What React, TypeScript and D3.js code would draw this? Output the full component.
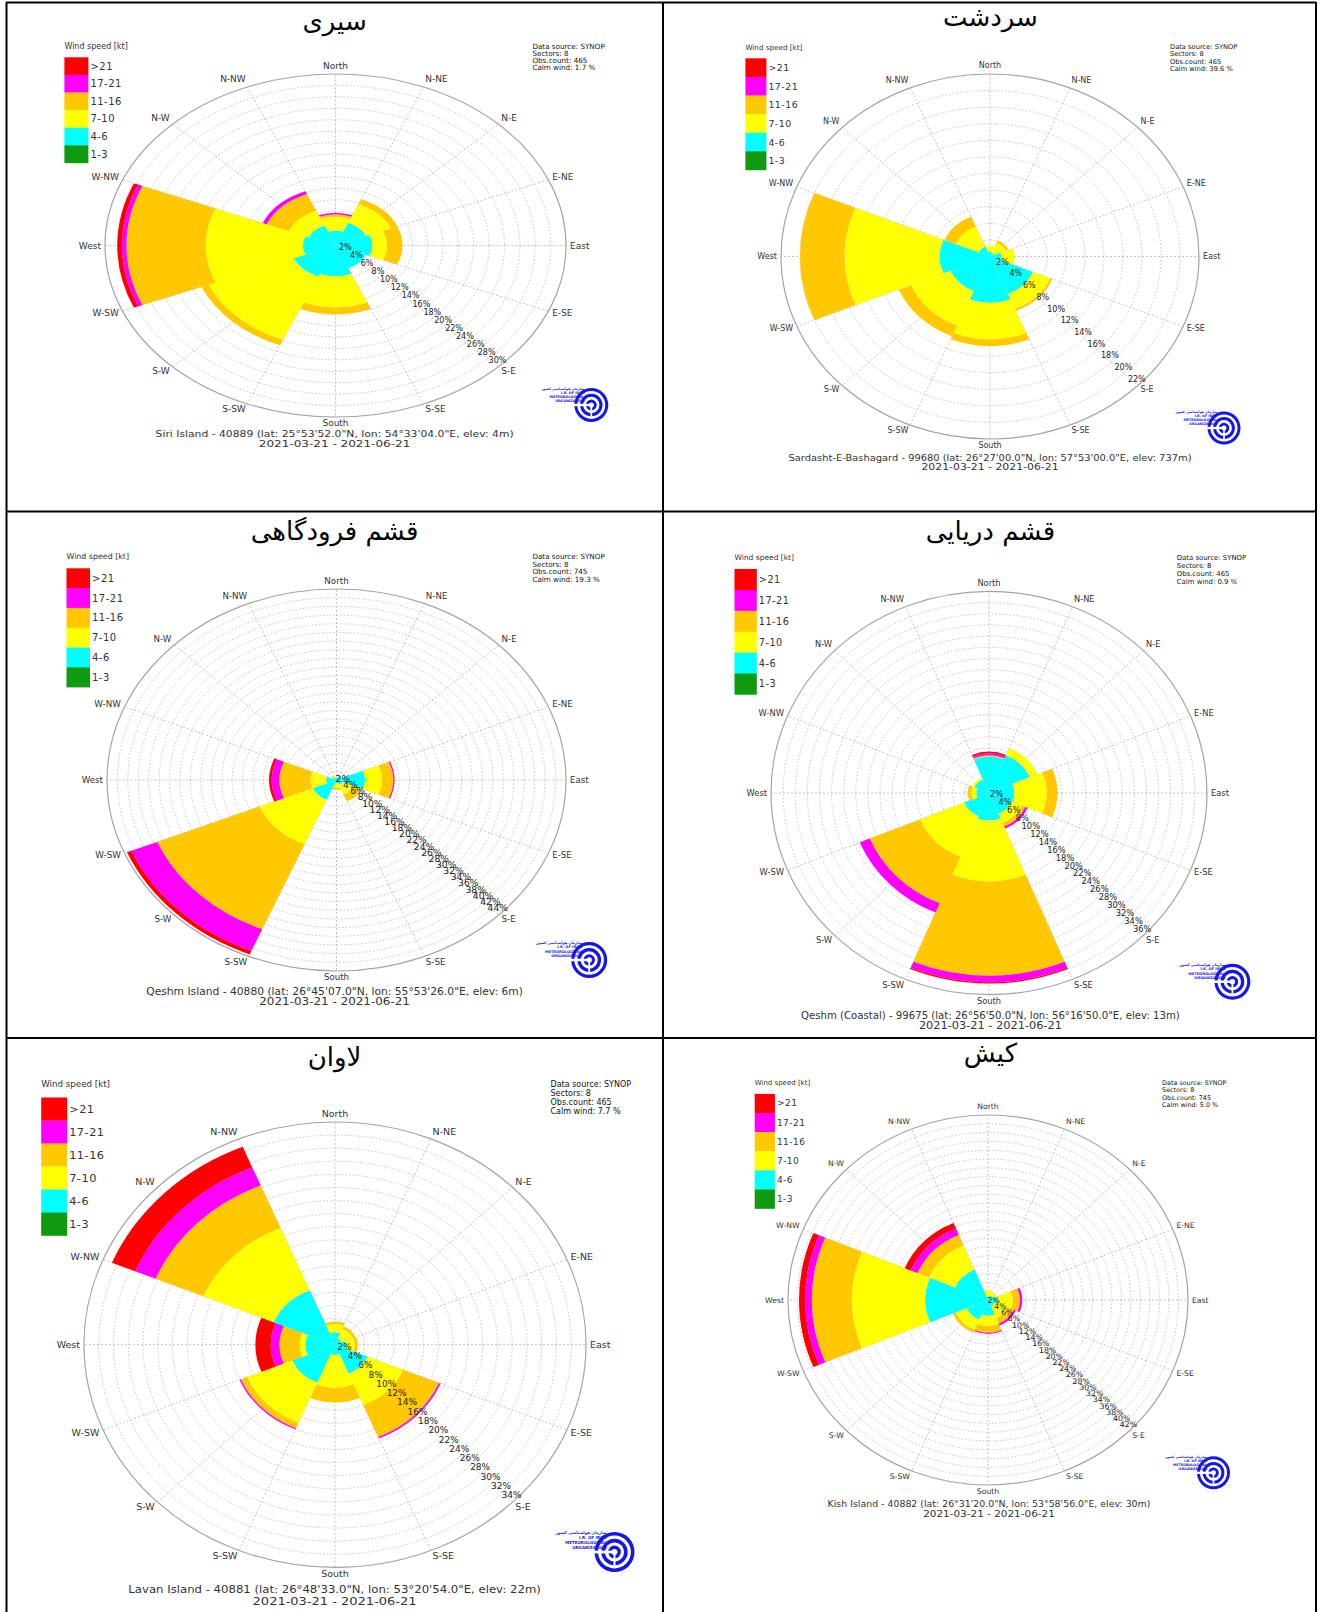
import React from 'react';
import * as d3 from 'd3';

// ---------- data ----------
const SECTORS = ['N', 'NE', 'E', 'SE', 'S', 'SW', 'W', 'NW'];
const COMPASS = ['North', 'N-NE', 'N-E', 'E-NE', 'East', 'E-SE', 'S-E', 'S-SE', 'South', 'S-SW', 'S-W', 'W-SW', 'West', 'W-NW', 'N-W', 'N-NW'];
const SPEED_CLASSES = ['1-3', '4-6', '7-10', '11-16', '17-21', '>21'];
const SPEED_COLORS = ['#109a10', '#00ffff', '#ffff00', '#ffc800', '#ff00ff', '#ff0000'];
const DATE_RANGE = '2021-03-21 - 2021-06-21';

// frequency (%) : rows = speed class (1-3 ... >21), cols = sector (N ... NW)
const siriFreq = [
  [0, 0, 0, 0, 0, 0, 0, 0],
  [2.6, 4.3, 4.8, 4.3, 5.4, 5.9, 4.25, 3.8],
  [2.4, 3.5, 1.9, 0, 5.4, 12.0, 12.65, 2.8],
  [0.45, 0.95, 2.0, 0, 1.2, 1.0, 10.3, 3.1],
  [0.25, 0, 0, 0, 0, 0, 0.6, 0.55],
  [0, 0, 0, 0, 0, 0, 0.6, 0],
];
const sardashtFreq = [
  [0, 0, 0, 0, 0, 0, 0, 0],
  [0.65, 0.5, 1.2, 4.9, 5.6, 4.5, 5.3, 1.3],
  [0.65, 1.3, 1.4, 1.95, 4.4, 4.5, 10.0, 2.6],
  [0, 0.3, 0, 0.25, 0.8, 1.4, 4.7, 1.3],
  [0, 0, 0, 0, 0, 0, 0, 0],
  [0, 0, 0, 0, 0, 0, 0, 0],
];
const qeshmAirportFreq = [
  [0, 0, 0, 0, 0, 0, 0, 0],
  [0.4, 1.0, 5.5, 1.2, 0.7, 4.9, 2.0, 0.8],
  [0, 0, 3.2, 2.4, 1.15, 11.1, 3.0, 0.4],
  [0, 0, 2.15, 1.7, 0.45, 21.2, 5.9, 0],
  [0, 0, 0.25, 0, 0, 5.4, 1.5, 0],
  [0, 0, 0, 0, 0, 0.9, 0.5, 0],
];
const qeshmCoastalFreq = [
  [0, 0, 0, 0, 0, 0, 0, 0],
  [6.5, 7.3, 4.2, 4.0, 4.9, 4.5, 2.1, 2.6],
  [0, 1.4, 5.3, 1.8, 10.9, 7.8, 0.8, 0.4],
  [0.2, 0, 1.8, 0.65, 16.8, 9.0, 0.6, 0],
  [0.35, 0, 0, 0.45, 1.2, 1.8, 0, 0],
  [0.3, 0, 0, 0, 0.2, 0, 0, 0],
];
const lavanFreq = [
  [0, 0, 0, 0, 0, 0, 0, 0],
  [1.9, 1.0, 1.5, 4.8, 1.6, 6.3, 4.0, 9.0],
  [1.25, 1.6, 1.2, 5.2, 5.0, 6.6, 0.8, 10.3],
  [0.4, 0.4, 0.4, 5.25, 2.2, 0.9, 2.7, 7.0],
  [0, 0, 0, 0.25, 0, 0.2, 1.2, 3.0],
  [0, 0, 0, 0, 0, 0, 2.1, 3.4],
];
const kishFreq = [
  [0, 0, 0, 0, 0, 0, 0, 0],
  [0.8, 1.2, 2.0, 1.5, 3.6, 4.8, 13.2, 7.5],
  [1.5, 0.8, 3.2, 3.0, 2.3, 2.5, 15.4, 5.9],
  [0, 0, 1.5, 1.3, 1.5, 0.7, 8.4, 2.6],
  [0, 0, 0.5, 0.5, 0.3, 0, 1.4, 1.6],
  [0, 0, 0, 0, 0, 0, 1.3, 1.3],
];

const FREQS = [siriFreq, sardashtFreq, qeshmAirportFreq, qeshmCoastalFreq, lavanFreq, kishFreq];
const TITLES = ['سیری', 'سردشت', 'قشم فرودگاهی', 'قشم دریایی', 'لاوان', 'کیش'];
const STATIONS = [
  'Siri Island - 40889 (lat: 25°53\'52.0"N, lon: 54°33\'04.0"E, elev: 4m)',
  'Sardasht-E-Bashagard - 99680 (lat: 26°27\'00.0"N, lon: 57°53\'00.0"E, elev: 737m)',
  'Qeshm Island - 40880 (lat: 26°45\'07.0"N, lon: 55°53\'26.0"E, elev: 6m)',
  'Qeshm (Coastal) - 99675 (lat: 26°56\'50.0"N, lon: 56°16\'50.0"E, elev: 13m)',
  'Lavan Island - 40881 (lat: 26°48\'33.0"N, lon: 53°20\'54.0"E, elev: 22m)',
  'Kish Island - 40882 (lat: 26°31\'20.0"N, lon: 53°58\'56.0"E, elev: 30m)',
];
const OBS_COUNTS = [465, 465, 745, 465, 465, 745];
const CALM_PCT = [1.7, 39.6, 19.3, 0.9, 7.7, 5.0];
const MAX_PCT = [30, 22, 44, 36, 34, 42];

// ---------- layout (positions / sizes) ----------
const LAYOUTS = [
  { cx: 335.5, cy: 245.5, rx: 230.5, ry: 171.5, titleX: 334.6, titleY: 30, titleSize: 26,
    legX: 64.4, legY: 57.3, legW: 24, legH: 17.6, legTitleY: 49, legFont: 10, legTitleFont: 8,
    infoX: 532.4, infoY: 48.5, infoDy: 7, infoFont: 7.2,
    footX: 334.6, footY: 437, footY2: 446.5, footW: 358, footW2: 151.5, footFont: 9.5,
    logoX: 591.3, logoY: 405, logoR: 17, dirFont: 9, tickFont: 8 },
  { cx: 990, cy: 256.5, rx: 209, ry: 182.5, titleX: 990.4, titleY: 26, titleSize: 26,
    legX: 745.4, legY: 58.3, legW: 21, legH: 18.6, legTitleY: 49.5, legFont: 9.4, legTitleFont: 7.2,
    infoX: 1170, infoY: 49, infoDy: 7.3, infoFont: 6.7,
    footX: 990, footY: 460.5, footY2: 470, footW: 403, footW2: 137.2, footFont: 9.5,
    logoX: 1224, logoY: 428, logoR: 16.5, dirFont: 8, tickFont: 8 },
  { cx: 336.5, cy: 780, rx: 229.5, ry: 191, titleX: 334.6, titleY: 540, titleSize: 26,
    legX: 66.5, legY: 568.3, legW: 23.5, legH: 19.8, legTitleY: 559, legFont: 10, legTitleFont: 7.9,
    infoX: 532.4, infoY: 559, infoDy: 7.7, infoFont: 7.2,
    footX: 334.6, footY: 995, footY2: 1005, footW: 376.7, footW2: 150.7, footFont: 10,
    logoX: 589.2, logoY: 960, logoR: 18, dirFont: 8.7, tickFont: 9.2 },
  { cx: 989, cy: 793, rx: 218, ry: 201.7, titleX: 990.4, titleY: 540, titleSize: 26,
    legX: 734.5, legY: 569, legW: 22.3, legH: 20.9, legTitleY: 559.7, legFont: 9.7, legTitleFont: 7.5,
    infoX: 1176.8, infoY: 559.5, infoDy: 8.1, infoFont: 6.9,
    footX: 990.4, footY: 1018.5, footY2: 1029, footW: 378.8, footW2: 143, footFont: 10,
    logoX: 1232.4, logoY: 981.7, logoR: 18, dirFont: 8.3, tickFont: 8.3 },
  { cx: 335, cy: 1344.7, rx: 251, ry: 222.7, titleX: 334.6, titleY: 1066, titleSize: 26,
    legX: 41.2, legY: 1097.5, legW: 26, legH: 23, legTitleY: 1086.5, legFont: 11.3, legTitleFont: 8.7,
    infoX: 550.5, infoY: 1087, infoDy: 9, infoFont: 8,
    footX: 334.6, footY: 1592.5, footY2: 1604.5, footW: 412.5, footW2: 164, footFont: 11,
    logoX: 614.5, logoY: 1552, logoR: 20, dirFont: 9.5, tickFont: 9 },
  { cx: 988, cy: 1300, rx: 200, ry: 185, titleX: 990.4, titleY: 1062, titleSize: 26,
    legX: 754.7, legY: 1093.9, legW: 20.2, legH: 19.1, legTitleY: 1084.7, legFont: 9, legTitleFont: 7,
    infoX: 1162.1, infoY: 1084.7, infoDy: 7.4, infoFont: 6.4,
    footX: 989, footY: 1507, footY2: 1516.5, footW: 322.8, footW2: 131.7, footFont: 9,
    logoX: 1213.5, logoY: 1472.8, logoR: 16.5, dirFont: 7.7, tickFont: 7.8 },
];

const FONT = "'DejaVu Sans', Verdana, sans-serif";

function Logo({ x, y, r }: { x: number; y: number; r: number }) {
  const blue = '#1616e8';
  const fs = r * 0.2;
  const tx = x - r * 0.4;
  return (
    <g>
      <circle cx={x} cy={y} r={r} fill={blue} />
      <circle cx={x} cy={y} r={r * 0.82} fill="#fff" />
      <circle cx={x} cy={y} r={r * 0.66} fill={blue} />
      <circle cx={x} cy={y} r={r * 0.48} fill="#fff" />
      <circle cx={x} cy={y} r={r * 0.32} fill={blue} />
      <circle cx={x} cy={y} r={r * 0.15} fill="#fff" />
      <rect x={x - r * 1.02} y={y - r * 0.07} width={r * 0.95} height={r * 0.14} fill="#fff" />
      <rect x={x - r * 0.05} y={y - r * 0.07} width={r * 0.1} height={r * 0.75} fill="#fff" />
      <g fontFamily={FONT} fontWeight="bold" fill={blue} textAnchor="end" fontSize={fs}>
        <text x={tx} y={y - r * 0.9}>سازمان هواشناسی کشور</text>
        <text x={tx} y={y - r * 0.64}>I.R. OF IRAN</text>
        <text x={tx} y={y - r * 0.4}>METEOROLOGICAL</text>
        <text x={tx} y={y - r * 0.16}>ORGANIZATION</text>
      </g>
    </g>
  );
}

function WindRose({ idx }: { idx: number }) {
  const L: any = LAYOUTS[idx];
  const freq = FREQS[idx];
  const maxPct = MAX_PCT[idx];
  const rScale = d3.scaleLinear().domain([0, maxPct]).range([0, 1]);
  const half = Math.PI / 8;
  const arcGen = d3.arc<any>();

  const wedges: { key: string; color: string; d: string }[] = [];
  SECTORS.forEach((_, j) => {
    const center = (j * 45 * Math.PI) / 180;
    let acc = 0;
    SPEED_CLASSES.forEach((_, k) => {
      const v = freq[k][j];
      if (v > 0) {
        wedges.push({
          key: `${j}-${k}`,
          color: SPEED_COLORS[k],
          d: arcGen({ innerRadius: rScale(acc), outerRadius: rScale(acc + v), startAngle: center - half, endAngle: center + half }) as string,
        });
      }
      acc += v;
    });
  });

  const rings = d3.range(2, maxPct - 0.001, 2);
  const ticks = d3.range(2, maxPct + 0.001, 2);
  const diag = Math.SQRT1_2;
  const gap = 4;

  return (
    <g fontFamily={FONT}>
      {/* title */}
      <text x={L.titleX} y={L.titleY} fontSize={L.titleSize} textAnchor="middle" fill="#000">{TITLES[idx]}</text>

      {/* legend */}
      <text x={L.legX} y={L.legTitleY} fontSize={L.legTitleFont} fill="#333">Wind speed [kt]</text>
      {SPEED_CLASSES.slice().reverse().map((lab, i) => {
        const k = SPEED_CLASSES.length - 1 - i;
        return (
          <g key={lab}>
            <rect x={L.legX} y={L.legY + i * L.legH} width={L.legW} height={L.legH + 0.3} fill={SPEED_COLORS[k]} />
            <text x={L.legX + L.legW + 2} y={L.legY + (i + 0.5) * L.legH} dominantBaseline="central" fontSize={L.legFont} fill="#333" letterSpacing={0.5}>{lab}</text>
          </g>
        );
      })}

      {/* info */}
      <g fontSize={L.infoFont} fill="#111">
        <text x={L.infoX} y={L.infoY}>Data source: SYNOP</text>
        <text x={L.infoX} y={L.infoY + L.infoDy}>Sectors: {SECTORS.length}</text>
        <text x={L.infoX} y={L.infoY + 2 * L.infoDy}>Obs.count: {OBS_COUNTS[idx]}</text>
        <text x={L.infoX} y={L.infoY + 3 * L.infoDy}>Calm wind: {CALM_PCT[idx].toFixed(1)} %</text>
      </g>

      {/* grid */}
      <g fill="none" stroke="#b4b4b4" strokeWidth={0.8}>
        {rings.map((v) => (
          <ellipse key={v} cx={L.cx} cy={L.cy} rx={rScale(v) * L.rx} ry={rScale(v) * L.ry} strokeDasharray="1.5,2" />
        ))}
        {COMPASS.map((_, i) => {
          const a = (i * 22.5 * Math.PI) / 180;
          return (
            <line key={i} x1={L.cx} y1={L.cy} x2={L.cx + L.rx * Math.sin(a)} y2={L.cy - L.ry * Math.cos(a)} strokeDasharray="2,2" />
          );
        })}
      </g>

      {/* bars */}
      <g transform={`translate(${L.cx},${L.cy}) scale(${L.rx},${L.ry})`}>
        {wedges.map((w) => (
          <path key={w.key} d={w.d} fill={w.color} />
        ))}
      </g>

      {/* outer circle */}
      <ellipse cx={L.cx} cy={L.cy} rx={L.rx} ry={L.ry} fill="none" stroke="#a4a4a4" strokeWidth={1.2} />

      {/* percent labels */}
      <g fontSize={L.tickFont} fill="#222" textAnchor="middle">
        {ticks.map((v) => (
          <text key={v} x={L.cx + rScale(v) * L.rx * diag - 1} y={L.cy + rScale(v) * L.ry * diag - L.tickFont * 0.45}>{v}%</text>
        ))}
      </g>

      {/* compass labels */}
      <g fontSize={L.dirFont} fill="#333">
        {COMPASS.map((lab, i) => {
          const a = (i * 22.5 * Math.PI) / 180;
          const s = Math.sin(a);
          const c = Math.cos(a);
          const px = L.cx + (L.rx + gap) * s;
          const py = L.cy - (L.ry + gap) * c;
          const anchor = Math.abs(s) < 0.2 ? 'middle' : s > 0 ? 'start' : 'end';
          const y = py - (c > 0 ? 4.5 : 2) * c;
          return (
            <text key={lab} x={px} y={y} textAnchor={anchor} dominantBaseline="central">{lab}</text>
          );
        })}
      </g>

      {/* footer */}
      <g fill="#333" fontSize={L.footFont} textAnchor="middle">
        <text x={L.footX} y={L.footY} textLength={L.footW} lengthAdjust="spacingAndGlyphs">{STATIONS[idx]}</text>
        <text x={L.footX} y={L.footY2} textLength={L.footW2} lengthAdjust="spacingAndGlyphs">{DATE_RANGE}</text>
      </g>

      <Logo x={L.logoX} y={L.logoY} r={L.logoR} />
    </g>
  );
}

export default function App() {
  return (
    <svg width={1320} height={1612} viewBox="0 0 1320 1612" style={{ position: 'absolute', left: 0, top: 0, background: '#fff' }}>
      <rect x={0} y={0} width={1320} height={1612} fill="#fff" />
      {FREQS.map((_, i) => (
        <WindRose key={i} idx={i} />
      ))}
      {/* table borders */}
      <g stroke="#000" strokeWidth={2}>
        <line x1={6.5} y1={2.5} x2={1316} y2={2.5} />
        <line x1={6.5} y1={2} x2={6.5} y2={1612} />
        <line x1={1316} y1={2} x2={1316} y2={1612} />
        <line x1={663} y1={2} x2={663} y2={1612} />
        <line x1={6.5} y1={511.5} x2={1316} y2={511.5} />
        <line x1={6.5} y1={1038} x2={1316} y2={1038} />
      </g>
    </svg>
  );
}
